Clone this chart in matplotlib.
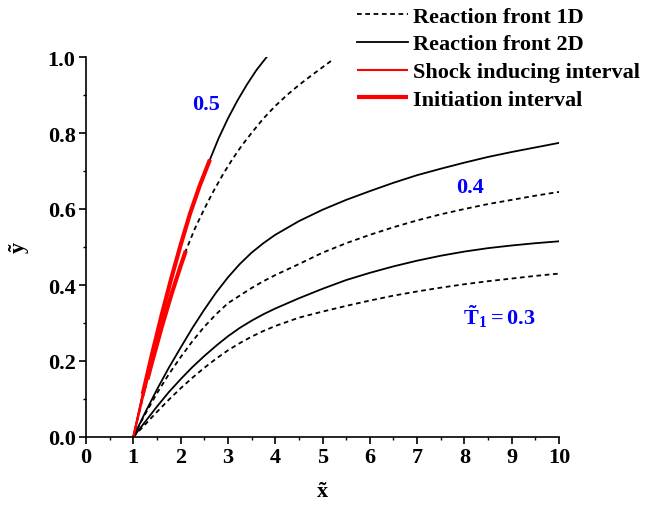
import matplotlib
matplotlib.use("Agg")
import matplotlib.pyplot as plt
import numpy as np

plt.rcParams['font.family'] = ['Liberation Serif', 'DejaVu Serif']
plt.rcParams['font.weight'] = 'bold'
plt.rcParams['mathtext.fontset'] = 'custom'
plt.rcParams['mathtext.rm'] = 'Liberation Serif:bold'
plt.rcParams['mathtext.bf'] = 'Liberation Serif:bold'
plt.rcParams['mathtext.it'] = 'Liberation Serif:bold'

# ---- data ----
# T1 = 0.5
x05_2d = [1.0, 1.2, 1.4, 1.6, 1.8, 2.0, 2.2, 2.4, 2.62, 2.8, 3.0, 3.2, 3.4, 3.6, 3.82]
y05_2d = [0.0, 0.113, 0.22, 0.321, 0.416, 0.505, 0.588, 0.66, 0.73, 0.785, 0.838, 0.885, 0.927, 0.965, 1.0]
x05_1d = [1.0, 1.2, 1.3, 1.4, 1.6, 1.8, 2.0, 2.11, 2.3, 2.5, 2.7, 2.9, 3.1, 3.3, 3.5, 3.75,
          4.0, 4.25, 4.5, 4.75, 5.0, 5.24]
y05_1d = [0.0, 0.103, 0.152, 0.199, 0.289, 0.373, 0.45, 0.49, 0.548, 0.6, 0.648, 0.692, 0.732, 0.768,
          0.8, 0.838, 0.871, 0.9, 0.926, 0.95, 0.973, 0.995]
# T1 = 0.4 and 0.3 share x positions
xs = [1.0, 1.25, 1.5, 1.75, 2.0, 2.25, 2.5, 2.75, 3.0, 3.25, 3.5, 3.75, 4.0, 4.5, 5.0, 5.5,
      6.0, 6.5, 7.0, 7.5, 8.0, 8.5, 9.0, 9.5, 10.0]
y04_2d = [0.0, 0.064, 0.125, 0.182, 0.235, 0.287, 0.335, 0.38, 0.42, 0.455, 0.485, 0.51, 0.532,
          0.568, 0.598, 0.624, 0.647, 0.669, 0.689, 0.706, 0.722, 0.737, 0.75, 0.762, 0.774]
y04_1d = [0.0, 0.06, 0.115, 0.165, 0.21, 0.252, 0.29, 0.323, 0.352, 0.372, 0.392, 0.41, 0.426,
          0.455, 0.485, 0.51, 0.532, 0.552, 0.57, 0.586, 0.6, 0.613, 0.624, 0.635, 0.645]
y03_2d = [0.0, 0.04, 0.08, 0.118, 0.152, 0.184, 0.213, 0.24, 0.265, 0.287, 0.306, 0.323, 0.338,
          0.365, 0.39, 0.413, 0.432, 0.449, 0.464, 0.477, 0.488, 0.497, 0.504, 0.51, 0.515]
y03_1d = [0.0, 0.033, 0.066, 0.098, 0.128, 0.156, 0.182, 0.206, 0.228, 0.247, 0.264, 0.279, 0.292,
          0.314, 0.33, 0.345, 0.359, 0.372, 0.383, 0.393, 0.402, 0.41, 0.417, 0.424, 0.43]

# intervals (x ranges on the T1 = 0.5 curves)
shock_2d = (1.0, 2.62)
init_2d = (1.2, 2.62)
shock_1d = (1.0, 2.11)
init_1d = (1.3, 2.11)

labels = ['Reaction front 1D', 'Reaction front 2D', 'Shock inducing interval', 'Initiation interval']
curve_labels = ['0.5', '0.4', r'$\mathbf{\tilde{T}_1 = 0.3}$']

FS = 16
fig = plt.figure(figsize=(6.45, 5.06), dpi=100)
ax = fig.add_axes([86/645, 1-438/506, 473/645, 380/506])

dash = (2.6, 2)
lw = 1.3
ax.plot(x05_1d, y05_1d, color='black', lw=lw, dashes=dash, label=labels[0])
ax.plot(x05_2d, y05_2d, color='black', lw=lw, label=labels[1])
ax.plot(xs, y04_1d, color='black', lw=lw, dashes=dash)
ax.plot(xs, y04_2d, color='black', lw=lw)
ax.plot(xs, y03_1d, color='black', lw=lw, dashes=dash)
ax.plot(xs, y03_2d, color='black', lw=lw)

def seg(xv, yv, rng):
    xv = np.asarray(xv); yv = np.asarray(yv)
    m = (xv >= rng[0] - 1e-9) & (xv <= rng[1] + 1e-9)
    return xv[m], yv[m]

sx, sy = seg(x05_2d, y05_2d, shock_2d)
ax.plot(sx, sy, color='red', lw=1.5, label=labels[2], solid_capstyle='butt')
sx, sy = seg(x05_1d, y05_1d, shock_1d)
ax.plot(sx, sy, color='red', lw=1.5, solid_capstyle='butt')
sx, sy = seg(x05_2d, y05_2d, init_2d)
ax.plot(sx, sy, color='red', lw=3.0, label=labels[3], solid_capstyle='butt')
sx, sy = seg(x05_1d, y05_1d, init_1d)
ax.plot(sx, sy, color='red', lw=3.0, solid_capstyle='butt')

ax.text(2.54, 0.875, curve_labels[0], color='blue', fontsize=FS, fontweight='bold', ha='center', va='center')
ax.text(8.11, 0.658, curve_labels[1], color='blue', fontsize=FS, fontweight='bold', ha='center', va='center')
ax.text(8.74, 0.32, curve_labels[2], color='blue', fontsize=FS, ha='center', va='center')

ax.set_xlim(0, 10)
ax.set_ylim(0, 1.0)
ax.set_xticks(np.arange(0, 11, 1))
ax.set_yticks(np.arange(0, 1.01, 0.2))
ax.set_yticklabels(['0.0', '0.2', '0.4', '0.6', '0.8', '1.0'])
ax.set_xticks(np.arange(0.5, 10, 1), minor=True)
ax.set_yticks(np.arange(0.1, 1.0, 0.2), minor=True)
ax.spines['top'].set_visible(False)
ax.spines['right'].set_visible(False)
for s in ['left', 'bottom']:
    ax.spines[s].set_linewidth(1.2)
ax.tick_params(which='major', direction='out', length=5, width=1.2, labelsize=FS, pad=2.5)
ax.tick_params(which='minor', direction='out', length=2.5, width=1.0)
for lab in ax.get_xticklabels() + ax.get_yticklabels():
    lab.set_fontweight('bold')

ax.set_xlabel(r'$\mathbf{\tilde{x}}$', fontsize=FS)
ax.set_ylabel(r'$\mathbf{\tilde{y}}$', fontsize=FS)
ax.xaxis.set_label_coords(0.5, -0.118)
ax.yaxis.set_label_coords(-0.115, 0.5)

leg = fig.legend(loc='upper left', bbox_to_anchor=(357/645, 1-7/506), frameon=False,
                 fontsize=FS, handlelength=2.3, handletextpad=0.2, labelspacing=0.33,
                 borderpad=0, borderaxespad=0)
for t in leg.get_texts():
    t.set_fontweight('bold')

fig.savefig('out.png', dpi=100)
